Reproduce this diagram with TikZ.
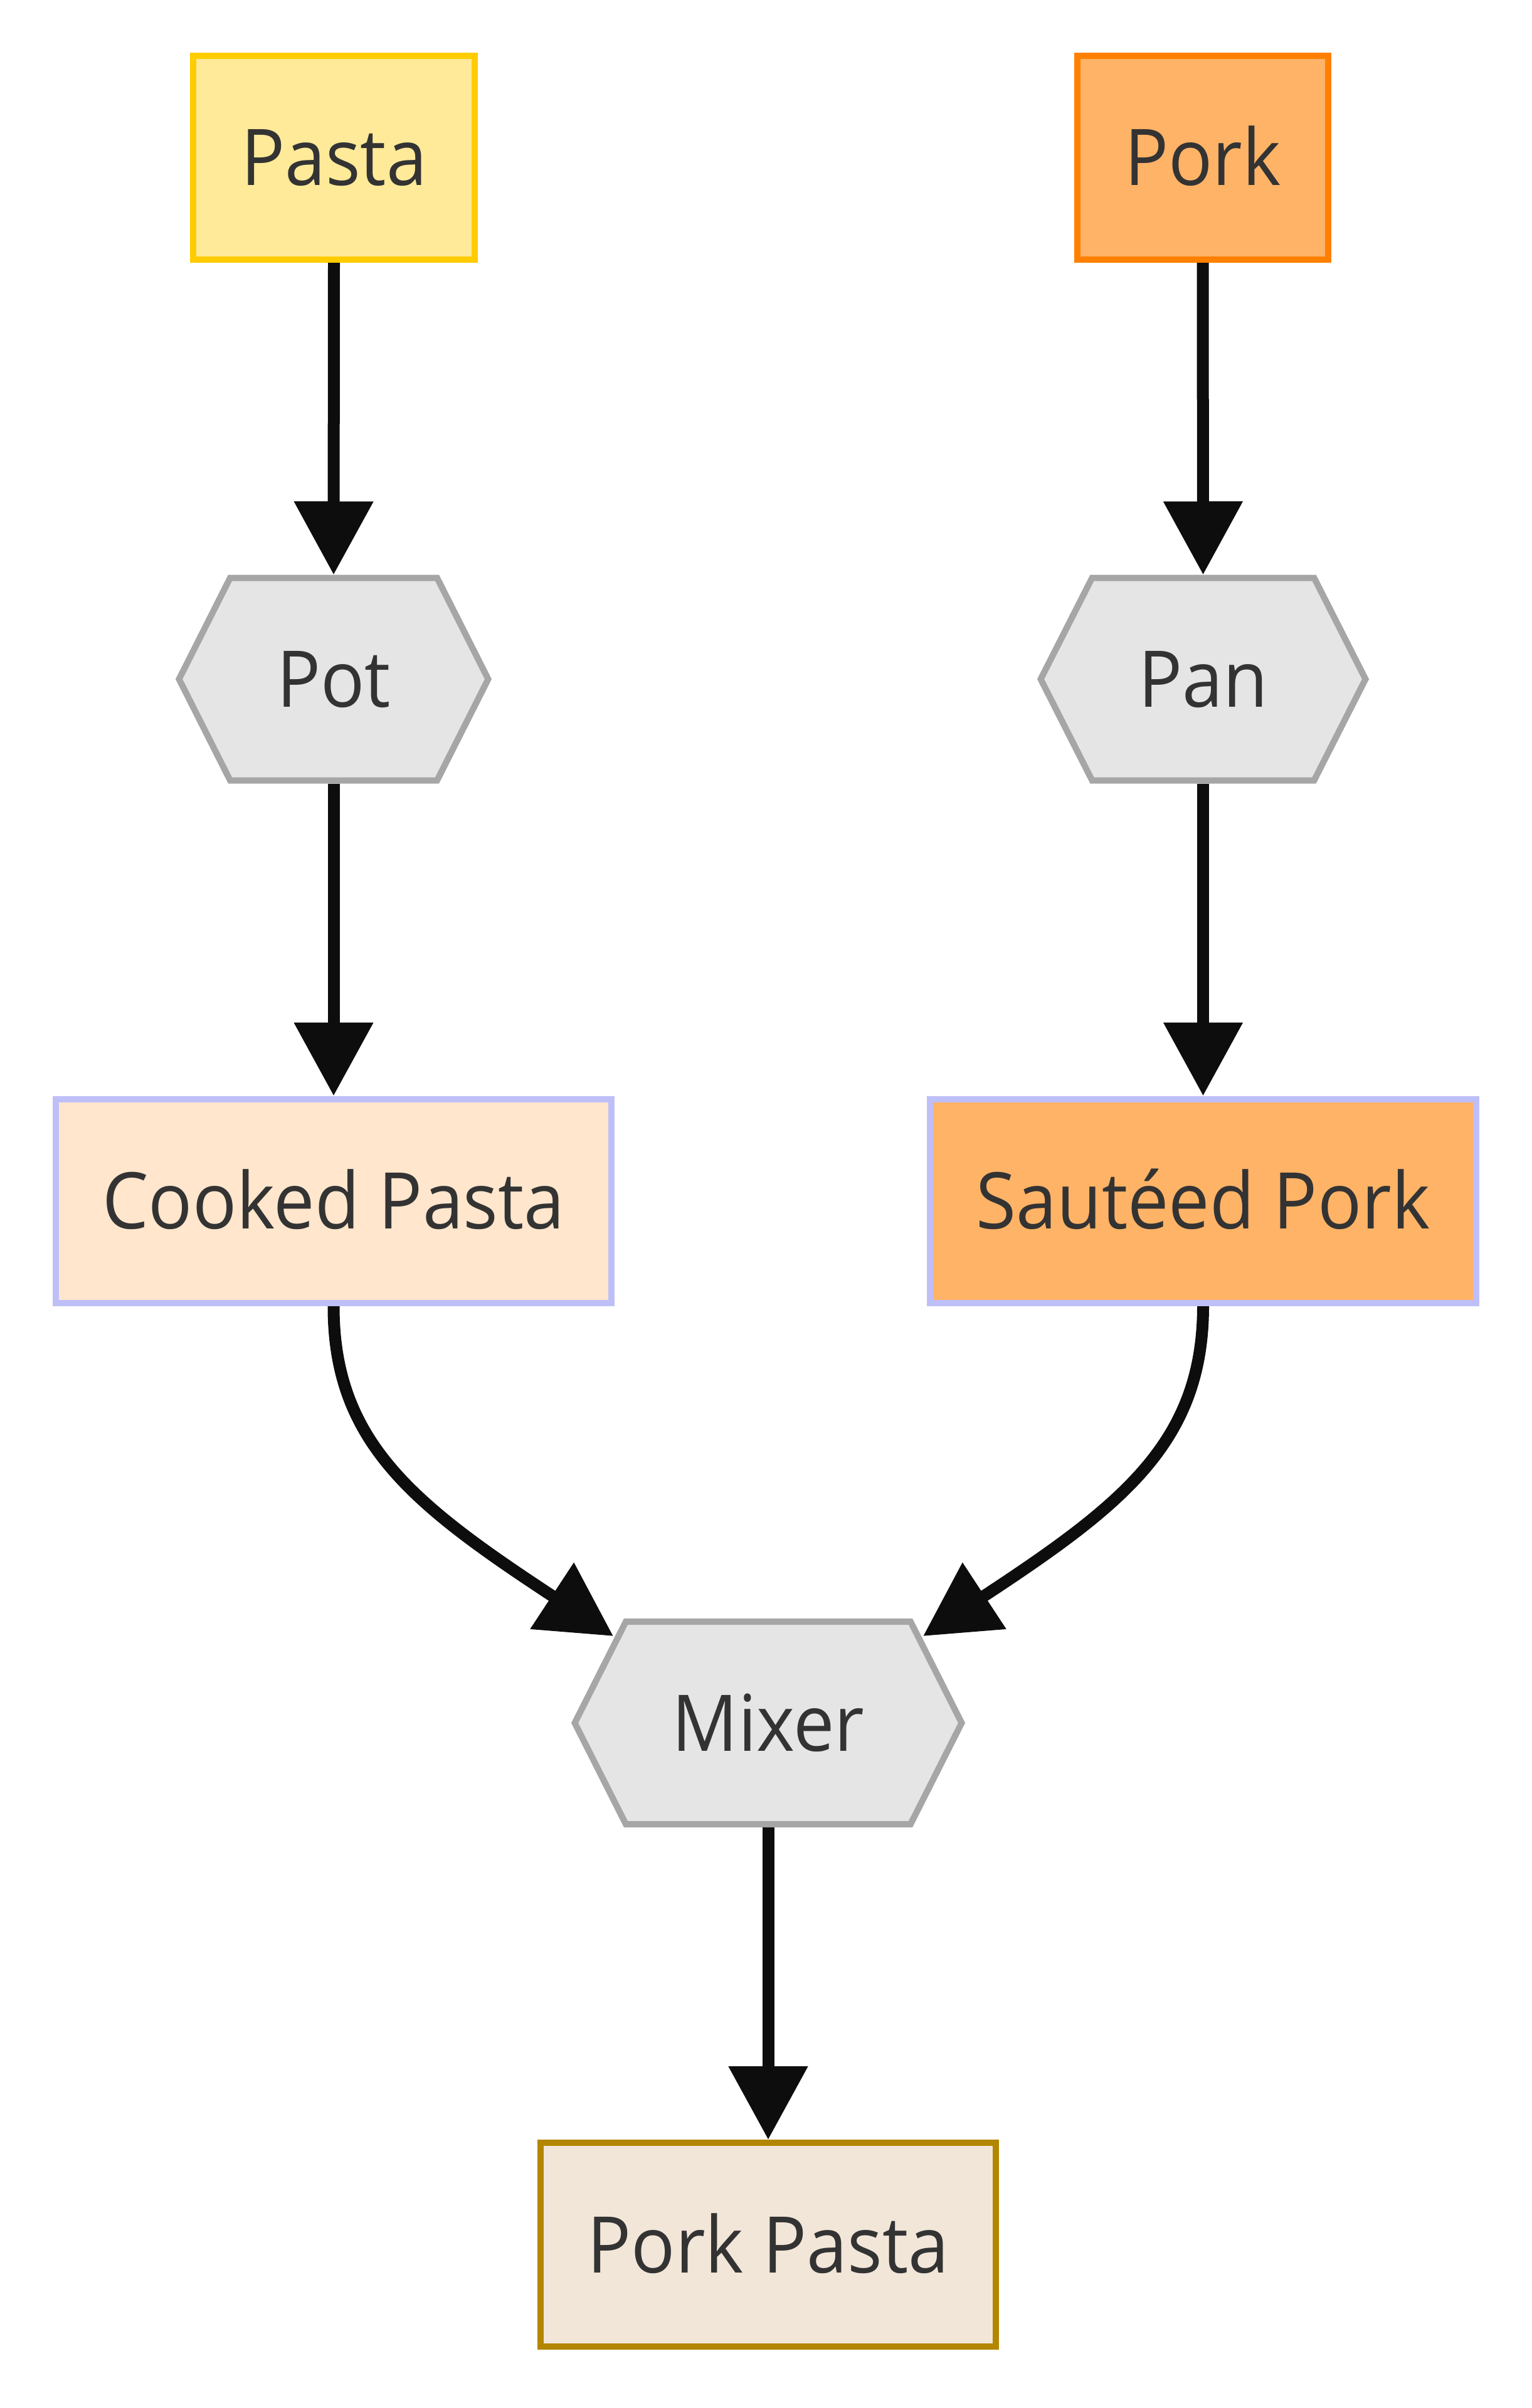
\documentclass[tikz,border=0pt]{standalone}
\usepackage{fontspec}
\setmainfont{Open Sans}[FakeStretch=0.935]
\usetikzlibrary{arrows.meta}

\pgfdeclarelayer{background}
\pgfdeclarelayer{middle}
\pgfsetlayers{background,middle,main}

\definecolor{ink}{HTML}{333333}
\definecolor{edgeblack}{HTML}{0D0D0D}
\definecolor{pastafill}{HTML}{FFEA99}
\definecolor{pastaline}{HTML}{FFCC00}
\definecolor{porkfill}{HTML}{FFB366}
\definecolor{porkline}{HTML}{FF8000}
\definecolor{hexfill}{HTML}{E5E5E5}
\definecolor{hexgray}{HTML}{A6A6A6}
\definecolor{cookedfill}{HTML}{FFE6CC}
\definecolor{lavender}{HTML}{BFBFF8}
\definecolor{dishfill}{HTML}{F2E6D9}
\definecolor{dishline}{HTML}{B38600}

\tikzset{
  box/.style={draw, line width=1mm, inner sep=0pt, minimum height=3.25cm,
    text height=0.89cm, text depth=0pt, text=ink,
    font=\fontsize{35.5}{40}\selectfont},
  hexbox/.style={box, draw=none, minimum height=3.23cm},
  hexline/.style={draw=hexgray, fill=hexfill, line width=1mm, line join=miter},
  flow/.style={draw=edgeblack, line width=1.9mm,
    -{Triangle[length=1.17cm,width=1.22cm]}}
}

% node, half width at the tips, half width of the flat sides
\newcommand{\hexshape}[3]{%
  \path[hexline] ([xshift=-#2cm]#1.center) -- ([shift={(-#3,1.615)}]#1.center)
    -- ([shift={(#3,1.615)}]#1.center) -- ([xshift=#2cm]#1.center)
    -- ([shift={(#3,-1.615)}]#1.center) -- ([shift={(-#3,-1.615)}]#1.center) -- cycle;}

\begin{document}
\begin{tikzpicture}
\useasboundingbox (0,0) rectangle (24.43,-38.40);

\node[box, fill=pastafill, draw=pastaline, minimum width=4.49cm] (pasta) at (5.325,-2.515) {Pasta};
\node[box, fill=porkfill, draw=porkline, minimum width=4.00cm] (pork) at (19.18,-2.515) {Pork};
\node[hexbox, minimum width=4.93cm] (pot) at (5.32,-10.83) {Pot};
\node[hexbox, minimum width=5.18cm] (pan) at (19.185,-10.83) {Pan};
\node[box, fill=cookedfill, draw=lavender, minimum width=8.86cm] (cooked) at (5.32,-19.15) {Cooked Pasta};
\node[box, fill=porkfill, draw=lavender, minimum width=8.71cm] (sauteed) at (19.185,-19.15) {Sautéed Pork};
\node[hexbox, minimum width=6.17cm] (mixer) at (12.25,-27.475) {Mixer};
\node[box, fill=dishfill, draw=dishline, minimum width=7.26cm] (porkpasta) at (12.25,-35.795) {Pork Pasta};

\coordinate (mixleft) at (9.78,-26.09);
\coordinate (mixright) at (14.72,-26.09);

\begin{pgfonlayer}{middle}
\hexshape{pot}{2.465}{1.65}
\hexshape{pan}{2.59}{1.77}
\hexshape{mixer}{3.085}{2.27}
\end{pgfonlayer}

\begin{pgfonlayer}{background}
\draw[flow] (pasta.south) -- (pot.north);
\draw[flow] (pork.south) -- (pan.north);
\draw[flow] (pot.south) -- (cooked.north);
\draw[flow] (pan.south) -- (sauteed.north);
\draw[flow] (cooked.south) .. controls (5.315,-23.0) and (6.6,-24.0) .. (mixleft);
\draw[flow] (sauteed.south) .. controls (19.185,-23.0) and (17.9,-24.0) .. (mixright);
\draw[flow] (mixer.south) -- (porkpasta.north);
\end{pgfonlayer}
\end{tikzpicture}
\end{document}
